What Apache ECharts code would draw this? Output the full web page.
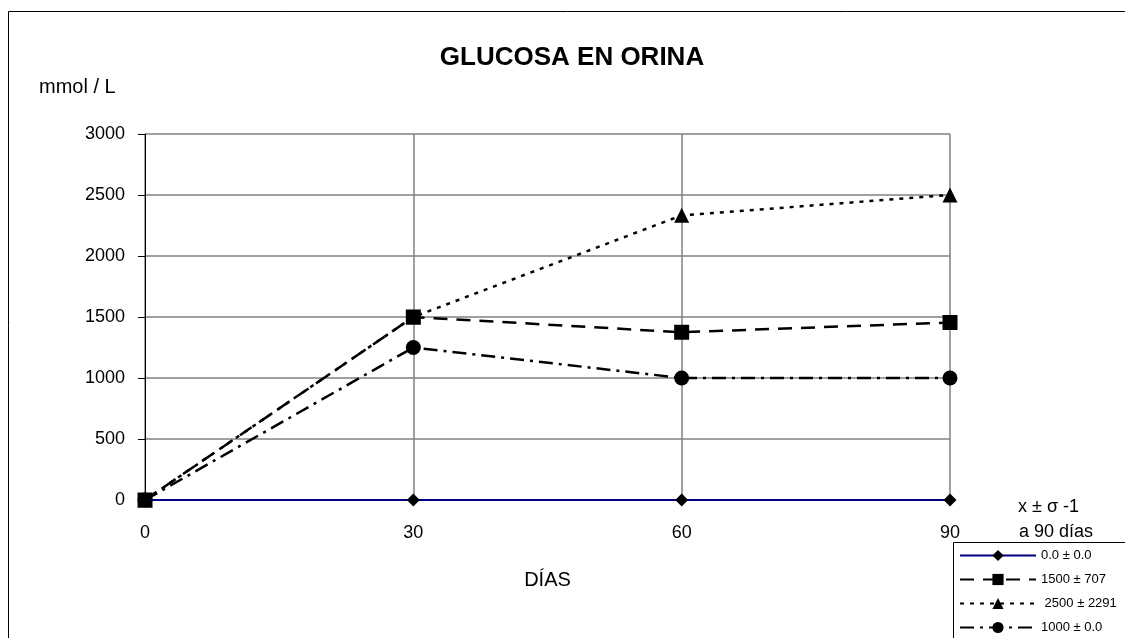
<!DOCTYPE html>
<html>
<head>
<meta charset="utf-8">
<script src="https://cdn.jsdelivr.net/npm/echarts@6/dist/echarts.min.js"></script>
<style>
  html, body { margin: 0; padding: 0; background: #fff; }
  #chart { width: 1125px; height: 638px; }
</style>
</head>
<body>
<div id="chart"></div>
<script>
var dias = ['0', '30', '60', '90'];
var yTicks = [0, 500, 1000, 1500, 2000, 2500, 3000];
var serieA = [0, 0, 0, 0];
var serieB = [0, 1500, 1375, 1455];
var serieC = [0, 1500, 2333, 2500];
var serieD = [0, 1250, 1000, 1000];
var nombres = ['0.0 ± 0.0', '1500 ± 707', ' 2500 ± 2291', '1000 ± 0.0'];

var myChart = echarts.init(document.getElementById('chart'));
var font = 'Arial, "Liberation Sans", sans-serif';

var option = {
    backgroundColor: '#fff',
    animation: false,
    textStyle: { fontFamily: font },
    title: [{
        text: 'GLUCOSA EN ORINA',
        left: 567, top: 40, textAlign: 'center',
        textStyle: { fontSize: 26, fontWeight: 'bold', color: '#000', fontFamily: font }
    }, {
        text: 'mmol / L',
        left: 34, top: 72,
        textStyle: { fontSize: 20, fontWeight: 'normal', color: '#000', fontFamily: font }
    }],
    graphic: [{
        type: 'rect',
        shape: { x: 8.5, y: 11.5, width: 1130, height: 640 },
        style: { fill: 'none', stroke: '#000', lineWidth: 1 },
        silent: true
    }, {
        type: 'rect',
        shape: { x: 953.5, y: 542.5, width: 200, height: 120 },
        style: { fill: '#fff', stroke: '#000', lineWidth: 1 },
        silent: true,
        z: 5
    }, {
        type: 'text',
        x: 1018, y: 507,
        style: { text: 'x ± σ -1', fontSize: 18, fontFamily: font, fill: '#000', verticalAlign: 'middle' },
        silent: true
    }, {
        type: 'text',
        x: 1019, y: 532,
        style: { text: 'a 90 días', fontSize: 18, fontFamily: font, fill: '#000', verticalAlign: 'middle' },
        silent: true
    }],
    legend: {
        orient: 'vertical',
        left: 959, top: 549,
        height: 89,
        padding: 0,
        itemWidth: 76, itemHeight: 14, itemGap: 11,
        z: 10,
        textStyle: { fontSize: 13, color: '#000', fontFamily: font },
        data: nombres
    },
    grid: { left: 145, right: 175, top: 134, bottom: 138 },
    xAxis: {
        type: 'category',
        data: dias,
        boundaryGap: false,
        name: 'DÍAS',
        nameLocation: 'middle',
        nameGap: 70,
        nameTextStyle: { fontSize: 20, color: '#000' },
        axisLine: { show: true, lineStyle: { color: '#000', width: 1 } },
        axisTick: { show: true, alignWithLabel: true, length: 6, lineStyle: { color: '#000' } },
        axisLabel: { fontSize: 18, color: '#000', margin: 24 },
        splitLine: { show: true, lineStyle: { color: '#808080', width: 1.5 } }
    },
    yAxis: {
        type: 'value',
        min: yTicks[0], max: yTicks[yTicks.length - 1], interval: 500,
        axisLine: { show: true, lineStyle: { color: '#000', width: 1 } },
        axisTick: { show: true, length: 7, lineStyle: { color: '#000' } },
        axisLabel: { fontSize: 18, color: '#000', margin: 20, formatter: function (v) { return String(v); } },
        splitLine: { show: true, lineStyle: { color: '#808080', width: 1.5 } }
    },
    series: [{
        name: nombres[0], type: 'line', data: serieA,
        symbol: 'diamond', symbolSize: 13,
        itemStyle: { color: '#000' },
        lineStyle: { color: '#000080', width: 2 },
        z: 4
    }, {
        name: nombres[1], type: 'line', data: serieB,
        symbol: 'rect', symbolSize: 15,
        itemStyle: { color: '#000' },
        lineStyle: { color: '#000', width: 2.5, type: [14, 9] },
        z: 3
    }, {
        name: nombres[2], type: 'line', data: serieC,
        symbol: 'triangle', symbolSize: 15,
        itemStyle: { color: '#000' },
        lineStyle: { color: '#000', width: 2.5, type: [4, 6] },
        z: 2
    }, {
        name: nombres[3], type: 'line', data: serieD,
        symbol: 'circle', symbolSize: 15,
        itemStyle: { color: '#000' },
        lineStyle: { color: '#000', width: 2.5, type: [14, 6, 3, 6] },
        z: 3
    }]
};
myChart.setOption(option);
</script>
</body>
</html>
